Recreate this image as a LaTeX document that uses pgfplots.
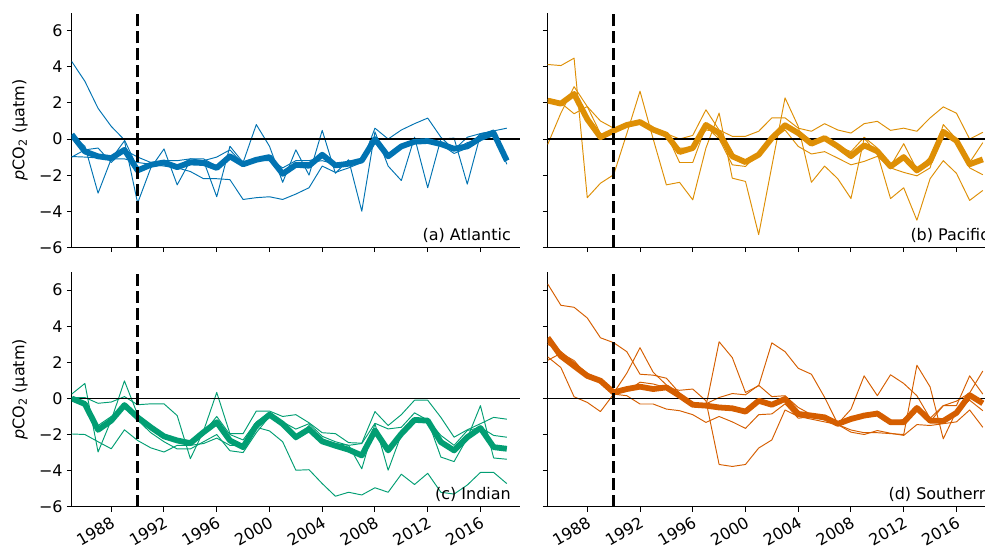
\documentclass[border=0pt]{standalone}
\usepackage{pgfplots}
\pgfplotsset{compat=1.18}
\usepackage{pgfplotstable}
\usepackage{fontspec}
\setmainfont{DejaVu Sans}
\definecolor{cA}{HTML}{0173B2}
\definecolor{cB}{HTML}{DE8F05}
\definecolor{cC}{HTML}{029E73}
\definecolor{cD}{HTML}{D55E00}
\newcommand{\fs}{\fontsize{16}{19.2}\selectfont}

\pgfplotstableread{
year m t1 t2 t3 t4
1985 0.25 4.3 0.2 -0.97 -1.0
1986 -0.69 3.2 -0.4 -1.0 -0.6
1987 -0.96 1.7 -3.0 -1.05 -0.5
1988 -1.06 0.7 -1.1 -1.1 -1.3
1989 -0.6 -0.05 -0.1 -1.1 -0.6
1990 -1.74 -1.6 -3.55 -1.3 -1.0
1991 -1.43 -1.5 -1.6 -1.4 -1.3
1992 -1.3 -1.35 -0.55 -1.5 -1.2
1993 -1.56 -1.5 -2.54 -1.6 -1.2
1994 -1.3 -1.1 -1.2 -1.8 -1.1
1995 -1.33 -1.1 -1.2 -2.2 -1.2
1996 -1.6 -1.5 -3.2 -2.2 -1.0
1997 -0.96 -0.9 -0.4 -2.25 -0.6
1998 -1.4 -1.5 -1.3 -3.35 -1.4
1999 -1.15 -1.2 0.8 -3.25 -1.2
2000 -1.0 -1.1 -0.4 -3.2 -1.2
2001 -1.93 -1.6 -2.4 -3.35 -1.9
2002 -1.43 -1.2 -0.6 -3.05 -1.3
2003 -1.48 -1.2 -2.0 -2.7 -1.3
2004 -0.87 -1.0 0.48 -1.5 -1.2
2005 -1.46 -1.5 -1.9 -1.85 -1.4
2006 -1.37 -1.2 -1.15 -1.6 -1.3
2007 -1.19 -1.3 -4.0 -1.3 -1.2
2008 0.0 -0.2 0.4 0.6 0.0
2009 -0.96 -0.9 -1.5 0.0 -1.0
2010 -0.41 -0.3 -2.3 0.5 -0.4
2011 -0.15 -0.1 0.1 0.85 -0.2
2012 -0.11 0.0 -2.7 1.16 -0.1
2013 -0.28 -0.2 0.0 0.1 -0.3
2014 -0.54 -0.6 0.05 -0.6 -0.8
2015 -0.41 -0.2 -2.5 0.1 -0.5
2016 0.05 0.0 0.24 0.3 0.3
2017 0.33 0.2 0.5 0.45 0.4
2018 -1.2 -1.0 -1.4 0.6 -1.2
}\tabA

\pgfplotstableread{
year m t1 t2 t3 t4
1985 2.13 4.13 -0.3 2.0 2.2
1986 1.96 4.07 1.44 2.0 2.0
1987 2.5 4.48 2.9 1.4 2.5
1988 1.1 -3.25 1.8 1.8 1.2
1989 0.1 -2.45 1.0 0.3 0.0
1990 0.46 -1.98 0.6 0.3 0.5
1991 0.78 0.3 0.75 0.9 0.8
1992 0.94 2.65 0.85 1.0 0.9
1993 0.52 0.0 0.6 0.6 0.5
1994 0.24 -2.54 0.3 0.3 0.2
1995 -0.72 -2.4 0.0 -1.3 -0.5
1996 -0.5 -3.37 0.2 -1.3 -0.5
1997 0.78 -0.5 1.62 0.7 0.5
1998 0.33 1.44 0.5 0.0 0.4
1999 -0.96 -2.17 0.15 -1.43 -1.0
2000 -1.28 -2.35 0.15 -1.52 -1.2
2001 -0.87 -5.3 0.43 -0.78 -0.9
2002 0.05 -1.5 1.17 -0.04 0.1
2003 0.76 2.28 1.17 0.5 0.7
2004 0.33 0.7 0.6 -0.41 0.4
2005 -0.26 -2.4 0.43 -0.83 -0.2
2006 0.05 -1.5 0.85 -0.7 0.1
2007 -0.41 -2.2 0.5 -1.06 -0.4
2008 -0.95 -3.3 0.33 -1.43 -0.7
2009 -0.35 0.04 0.85 -1.24 0.1
2010 -0.68 -0.8 0.98 -0.96 -0.5
2011 -1.52 -3.3 0.48 -1.6 -1.5
2012 -1.0 -2.7 0.6 -1.85 -0.26
2013 -1.74 -4.5 0.43 -2.04 -1.7
2014 -1.24 -2.2 1.17 -1.6 -1.0
2015 0.4 -1.2 1.78 0.8 0.4
2016 -0.1 -1.9 1.43 0.0 -0.1
2017 -1.4 -3.4 0.0 -1.6 -1.3
2018 -1.13 -2.85 0.37 -1.98 -0.2
}\tabB

\pgfplotstableread{
year m t1 t2 t3 t4
1985 0 -1.97 0.24 0.05 0.0
1986 -0.31 -2.0 0.83 0.05 -0.4
1987 -1.74 -2.4 -2.97 -0.27 -1.5
1988 -1.23 -2.79 -1.2 -0.2 -1.0
1989 -0.37 -1.74 0.97 0.1 -0.5
1990 -1.05 -2.33 -0.9 -0.35 -1.2
1991 -1.6 -2.74 -1.5 -0.3 -1.9
1992 -2.1 -2.97 -2.2 -0.3 -2.4
1993 -2.33 -2.6 -2.4 -0.95 -2.8
1994 -2.48 -2.6 -2.5 -3.34 -2.8
1995 -1.87 -2.5 -1.9 -1.8 -2.4
1996 -1.32 -2.2 -1.0 0.33 -2.0
1997 -2.33 -2.6 -2.0 -1.95 -2.9
1998 -2.7 -2.6 -2.3 -1.95 -3.0
1999 -1.5 -1.6 -1.3 -0.7 -1.9
2000 -0.9 -1.8 -0.8 -0.7 -1.0
2001 -1.41 -2.4 -1.5 -1.0 -1.3
2002 -2.15 -3.98 -2.3 -0.9 -1.7
2003 -1.7 -3.95 -1.5 -1.35 -1.4
2004 -2.38 -4.72 -2.4 -1.9 -2.1
2005 -2.62 -5.42 -2.5 -1.95 -2.4
2006 -2.84 -5.2 -2.6 -2.45 -2.6
2007 -3.16 -5.35 -3.9 -2.48 -2.5
2008 -1.78 -4.95 -1.4 -0.73 -1.38
2009 -2.88 -5.2 -3.98 -1.5 -1.69
2010 -1.96 -4.2 -2.0 -0.9 -1.6
2011 -1.19 -4.77 -1.3 -0.1 -0.8
2012 -1.23 -4.15 -1.2 -0.1 -1.2
2013 -2.42 -5.2 -3.25 -1.05 -2.05
2014 -2.88 -5.3 -3.5 -2.15 -2.6
2015 -2.15 -4.8 -2.2 -1.74 -1.78
2016 -1.64 -4.1 -0.4 -1.4 -1.6
2017 -2.7 -4.1 -3.3 -1.05 -2.05
2018 -2.79 -4.72 -3.37 -1.15 -2.15
}\tabC

\pgfplotstableread{
year m t1 t2 t3 t4
1985 3.36 6.34 2.11 2.3 3.0
1986 2.35 5.16 2.5 1.71 2.6
1987 1.8 5.05 2.1 0.09 2.0
1988 1.25 4.46 1.25 -0.22 1.4
1989 0.98 3.36 1.0 -0.73 1.0
1990 0.33 3.09 0.3 0.24 0.3
1991 0.52 2.59 1.4 0.15 0.4
1992 0.65 1.34 2.81 -0.31 0.9
1993 0.52 1.29 1.45 -0.31 0.8
1994 0.61 1.12 0.75 -0.59 0.6
1995 0.15 0.3 0.2 -0.68 0.45
1996 -0.35 -0.35 -0.25 -0.9 0.52
1997 -0.4 -0.3 -0.45 -1.33 -0.13
1998 -0.5 0.05 3.14 -1.0 -3.66
1999 -0.55 0.27 2.26 -1.3 -3.77
2000 -0.73 0.2 0.33 -1.66 -3.66
2001 -0.13 0.73 0.7 -0.9 -2.75
2002 -0.35 0.1 3.08 -0.86 -2.3
2003 -0.03 0.15 2.59 -0.3 -0.64
2004 -0.86 -0.5 1.67 -1.1 -1.0
2005 -0.95 -0.9 1.34 -1.0 -1.15
2006 -1.05 -1.1 0.06 -1.2 -1.3
2007 -1.41 -1.35 -1.41 -1.45 -1.45
2008 -1.14 -1.0 -0.6 -1.87 -1.75
2009 -0.95 -0.95 1.25 -2.0 -1.9
2010 -0.84 -0.7 0.15 -1.78 -1.9
2011 -1.32 -1.4 1.31 -1.93 -1.95
2012 -1.32 -1.15 0.83 -2.05 -2.0
2013 -0.53 -0.65 0.15 -1.45 1.84
2014 -1.23 -1.3 -1.1 -1.5 0.64
2015 -1.25 -0.4 -0.4 -1.4 -2.24
2016 -0.8 -0.15 -0.4 -1.3 -0.7
2017 0.18 0.3 1.25 -0.64 -0.1
2018 -0.27 1.52 0.24 -1.6 -0.68
}\tabD

\pgfplotsset{
  panel/.style={
    scale only axis, width=448.3pt, height=234.6pt,
    anchor=south west,
    xmin=1985, xmax=2019, ymin=-6, ymax=7,
    axis lines=left,
    axis line style={-, line width=1pt, black},
    tick align=outside, major tick length=4.9pt,
    tick style={line width=1pt, black},
    xtick={1988,1992,1996,2000,2004,2008,2012,2016},
    ytick={-6,-4,-2,0,2,4,6},
    every tick label/.append style={font=\fs},
    label style={font=\fs},
  },
  xlab/.style={
    xticklabels={1988,1992,1996,2000,2004,2008,2012,2016},
    xticklabel style={rotate=30, anchor=north east, inner sep=0pt, xshift=-3pt, yshift=-3pt},
  },
  noxlab/.style={xticklabels={}},
  ylab/.style={
    yticklabels={−6,−4,−2,0,2,4,6},
    yticklabel style={inner sep=0pt, xshift=-4pt},
    ylabel={\textit{p}CO\textsubscript{2} (µatm)},
    ylabel style={at={(axis description cs:-0.1155,0.5)}, anchor=center},
  },
  noylab/.style={yticklabels={}},
  thinl/.style={#1, line width=0.95pt, line join=round, forget plot},
  thickl/.style={#1, line width=5.8pt, line join=round, forget plot},
  zerol/.style={black, line width=1.4pt, forget plot},
  dashl/.style={black, line width=3pt, dash pattern=on 12pt off 5pt, forget plot},
}

\newcommand{\panelplots}[2]{%
  \addplot[thinl=#2] table[x=year,y=t1] {#1};
  \addplot[thinl=#2] table[x=year,y=t2] {#1};
  \addplot[thinl=#2] table[x=year,y=t3] {#1};
  \addplot[thinl=#2] table[x=year,y=t4] {#1};
  \addplot[zerol] coordinates {(1985,0) (2019,0)};
  \addplot[thickl=#2] table[x=year,y=m] {#1};
  \addplot[dashl] coordinates {(1990,-6) (1990,7)};
}

\begin{document}
\begin{tikzpicture}[x=1pt,y=1pt]
\begin{axis}[panel, noxlab, ylab, at={(71.7pt,301.7pt)}]
  \panelplots{\tabA}{cA}
  \node[anchor=south east, inner sep=0pt, font=\fs] at (rel axis cs:0.98,0.02) {(a) Atlantic};
\end{axis}
\begin{axis}[panel, noxlab, noylab, at={(547.7pt,301.7pt)}]
  \panelplots{\tabB}{cB}
  \node[anchor=south east, inner sep=0pt, font=\fs] at (rel axis cs:0.985,0.02) {(b) Pacific};
\end{axis}
\begin{axis}[panel, xlab, ylab, at={(71.7pt,42.3pt)}]
  \panelplots{\tabC}{cC}
  \node[anchor=south east, inner sep=0pt, font=\fs] at (rel axis cs:0.98,0.02) {(c) Indian};
\end{axis}
\begin{axis}[panel, xlab, noylab, at={(547.7pt,42.3pt)}]
  \panelplots{\tabD}{cD}
  \node[anchor=south east, inner sep=0pt, font=\fs] at (rel axis cs:0.985,0.02) {(d) Southern};
\end{axis}
\pgfresetboundingbox
\path[use as bounding box] (0pt,0pt) rectangle (985pt,549pt);
\end{tikzpicture}
\end{document}
